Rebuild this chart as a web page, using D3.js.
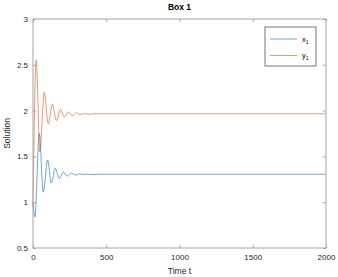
<!DOCTYPE html>
<html><head><meta charset="utf-8">
<script src="https://cdn.jsdelivr.net/npm/d3@7"></script>
<style>body{margin:0;background:#fff}svg{display:block}text{font-family:"Liberation Sans",Arial,sans-serif}</style>
</head><body><svg id="c" width="338" height="277"></svg>
<script>
const title = "Box 1";
const xLabel = "Time t";
const yLabel = "Solution";
const xTicks = [0, 500, 1000, 1500, 2000];
const yTicks = [0.5, 1, 1.5, 2, 2.5, 3];
const seriesNames = ["x", "y"];
// x1 (blue) readings: time, value
const tX1 = [0, 13, 43, 70, 100, 125, 152, 180, 207, 234, 262, 290, 318, 346, 374, 402, 450, 2000];
const vX1 = [1.0, 0.84, 1.75, 1.11, 1.46, 1.21, 1.37, 1.26, 1.33, 1.285, 1.318, 1.296, 1.31, 1.301, 1.307, 1.303, 1.305, 1.305];
// y1 (orange) readings
const tY1 = [0, 22, 47, 77, 104, 132, 160, 187, 214, 241, 268, 296, 324, 352, 380, 420, 2000];
const vY1 = [0.95, 2.55, 1.55, 2.2, 1.855, 2.07, 1.89, 2.01, 1.93, 1.985, 1.945, 1.975, 1.955, 1.968, 1.96, 1.965, 1.965];
const colors = ["#0072BD", "#D95319"];

const svg = d3.select("#c");
const L = 33, R = 326, T = 19, B = 248;
const x = d3.scaleLinear().domain([0, 2000]).range([L, R]);
const y = d3.scaleLinear().domain([0.5, 3]).range([B, T]);
const axisCol = "#a6a6a6", txtCol = "#262626";

const line = d3.line().x(d => x(d[0])).y(d => y(d[1])).curve(d3.curveMonotoneX);
const sets = [d3.zip(tX1, vX1), d3.zip(tY1, vY1)];
const g = svg.append("g");
sets.forEach((s, i) => g.append("path").attr("d", line(s)).attr("fill", "none")
  .attr("stroke", colors[i]).attr("stroke-width", 0.6));

// box
svg.append("rect").attr("x", L).attr("y", T).attr("width", R - L).attr("height", B - T)
  .attr("fill", "none").attr("stroke", axisCol).attr("stroke-width", 1);

function styleAxis(sel) {
  sel.select(".domain").remove();
  sel.selectAll(".tick line").attr("stroke", axisCol);
  sel.selectAll(".tick text").attr("fill", txtCol).style("font-size", "8px");
}
svg.append("g").attr("transform", `translate(0,${B})`)
  .call(d3.axisBottom(x).tickValues(xTicks).tickSize(-3).tickPadding(6).tickFormat(d3.format("d"))).call(styleAxis);
svg.append("g").attr("transform", `translate(0,${T})`)
  .call(d3.axisTop(x).tickValues(xTicks).tickSize(-3).tickFormat("")).call(styleAxis);
svg.append("g").attr("transform", `translate(${L},0)`)
  .call(d3.axisLeft(y).tickValues(yTicks).tickSize(-3).tickPadding(5).tickFormat(d => String(d))).call(styleAxis);
svg.append("g").attr("transform", `translate(${R},0)`)
  .call(d3.axisRight(y).tickValues(yTicks).tickSize(-3).tickFormat("")).call(styleAxis);

svg.append("text").attr("x", (L + R) / 2).attr("y", 10).attr("text-anchor", "middle")
  .style("font-size", "8.5px").style("font-weight", "bold").attr("fill", "#000").text(title);
svg.append("text").attr("x", (L + R) / 2).attr("y", 274).attr("text-anchor", "middle")
  .style("font-size", "8.5px").attr("fill", txtCol).text(xLabel);
svg.append("text").attr("transform", `translate(10,${(T + B) / 2}) rotate(-90)`).attr("text-anchor", "middle")
  .style("font-size", "8.5px").attr("fill", txtCol).text(yLabel);

// legend
const lg = svg.append("g");
lg.append("rect").attr("x", 265).attr("y", 27).attr("width", 51).attr("height", 39)
  .attr("fill", "#fff").attr("stroke", "#555").attr("stroke-width", 0.8);
seriesNames.forEach((n, i) => {
  const yy = 39 + i * 16.5;
  lg.append("line").attr("x1", 270).attr("x2", 297).attr("y1", yy).attr("y2", yy)
    .attr("stroke", colors[i]).attr("stroke-width", 0.6);
  const t = lg.append("text").attr("x", 302).attr("y", yy + 2.5).style("font-size", "7.5px").attr("fill", "#000");
  t.append("tspan").text(n);
  t.append("tspan").attr("dy", 2).style("font-size", "5px").text("1");
});
</script></body></html>
